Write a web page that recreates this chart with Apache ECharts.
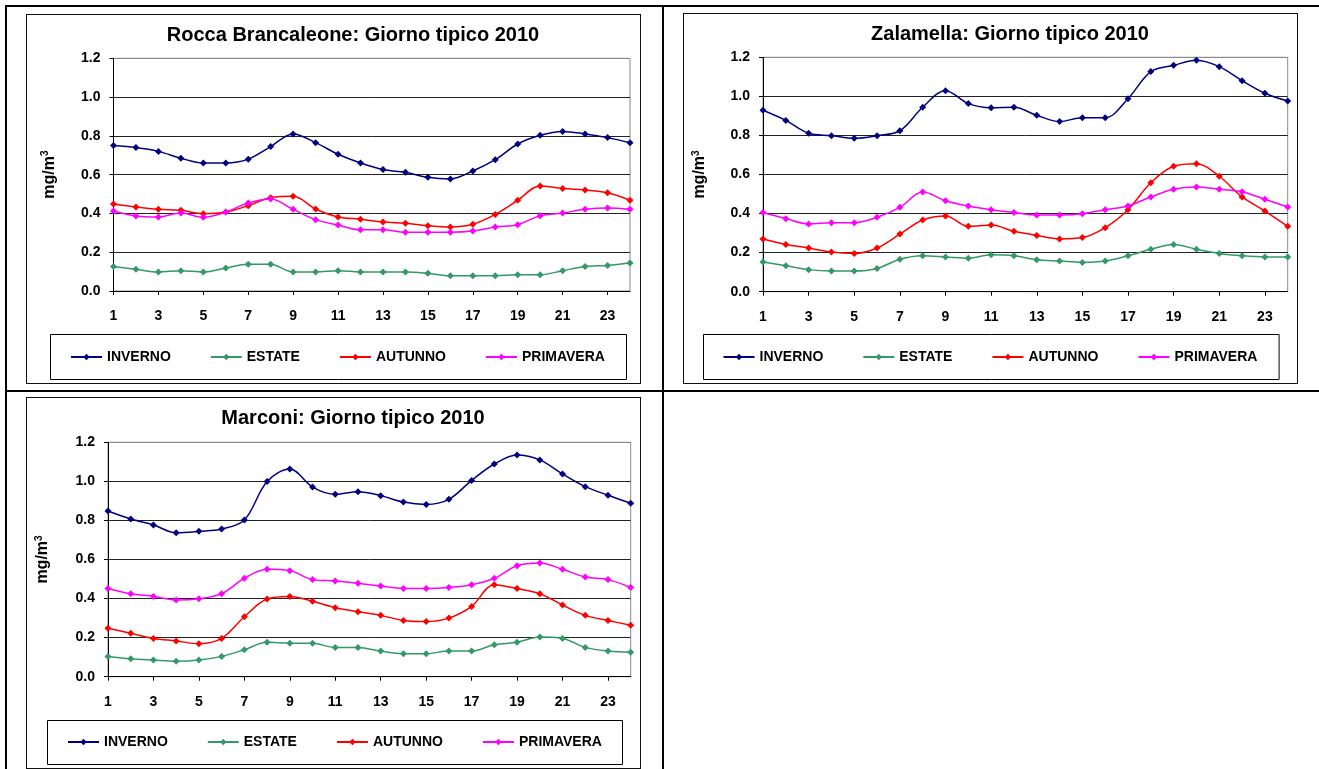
<!DOCTYPE html>
<html><head><meta charset="utf-8">
<script src="https://cdn.jsdelivr.net/npm/echarts@6/dist/echarts.min.js"></script>
<style>
html,body{margin:0;padding:0;background:#fff;width:1319px;height:769px;overflow:hidden;position:relative}
.tl{position:absolute;background:#000}
.ch{position:absolute}
.fr{position:absolute;box-sizing:border-box;border:1px solid #111;pointer-events:none}
</style></head><body>
<div class="tl" style="left:5px;top:5px;width:1314px;height:2px"></div>
<div class="tl" style="left:5px;top:5px;width:2px;height:764px"></div>
<div class="tl" style="left:662px;top:5px;width:2px;height:764px"></div>
<div class="tl" style="left:5px;top:390px;width:1314px;height:2px"></div>

<div id="c1" class="ch" style="left:26px;top:14px;width:615px;height:370px"></div>
<div class="fr" style="left:26px;top:14px;width:615px;height:370px"></div>
<div id="c2" class="ch" style="left:683px;top:13px;width:615px;height:371px"></div>
<div class="fr" style="left:683px;top:13px;width:615px;height:371px"></div>
<div id="c3" class="ch" style="left:26px;top:397px;width:615px;height:372px"></div>
<div class="fr" style="left:26px;top:397px;width:615px;height:372px"></div>

<script>
// ---- data ----
const hours = ['1','2','3','4','5','6','7','8','9','10','11','12','13','14','15','16','17','18','19','20','21','22','23','24'];
const seriesNames = ['INVERNO','ESTATE','AUTUNNO','PRIMAVERA'];
const yTicks = [0, 0.2, 0.4, 0.6, 0.8, 1.0, 1.2];

const titleRocca = 'Rocca Brancaleone: Giorno tipico 2010';
const roccaInverno   = [0.75,0.74,0.72,0.685,0.66,0.66,0.68,0.745,0.81,0.765,0.705,0.66,0.626,0.612,0.586,0.578,0.619,0.677,0.758,0.803,0.823,0.81,0.791,0.765];
const roccaEstate    = [0.126,0.112,0.098,0.105,0.098,0.119,0.138,0.138,0.098,0.098,0.105,0.098,0.098,0.098,0.091,0.079,0.079,0.079,0.084,0.084,0.105,0.126,0.132,0.144];
const roccaAutunno   = [0.449,0.433,0.421,0.416,0.399,0.407,0.44,0.481,0.488,0.423,0.382,0.37,0.356,0.349,0.337,0.33,0.344,0.395,0.468,0.542,0.528,0.521,0.507,0.468];
const roccaPrimavera = [0.413,0.387,0.382,0.402,0.38,0.407,0.454,0.474,0.421,0.368,0.34,0.316,0.316,0.303,0.303,0.303,0.309,0.33,0.342,0.388,0.402,0.421,0.428,0.421];

const titleZalamella = 'Zalamella: Giorno tipico 2010';
const zalInverno   = [0.929,0.877,0.811,0.799,0.785,0.799,0.824,0.944,1.029,0.963,0.942,0.944,0.903,0.871,0.891,0.891,0.988,1.127,1.159,1.185,1.152,1.08,1.016,0.976];
const zalEstate    = [0.152,0.133,0.113,0.106,0.106,0.119,0.166,0.184,0.178,0.171,0.189,0.184,0.164,0.157,0.15,0.157,0.184,0.217,0.242,0.217,0.196,0.184,0.178,0.178];
const zalAutunno   = [0.27,0.242,0.224,0.203,0.196,0.224,0.295,0.367,0.388,0.335,0.341,0.309,0.288,0.27,0.277,0.328,0.42,0.558,0.642,0.655,0.591,0.485,0.413,0.335];
const zalPrimavera = [0.405,0.374,0.347,0.353,0.353,0.381,0.432,0.51,0.466,0.439,0.42,0.406,0.393,0.393,0.399,0.42,0.439,0.485,0.524,0.536,0.524,0.512,0.473,0.434];

const titleMarconi = 'Marconi: Giorno tipico 2010';
const marInverno   = [0.848,0.807,0.777,0.737,0.744,0.756,0.802,0.999,1.063,0.971,0.934,0.947,0.927,0.894,0.882,0.908,1.005,1.089,1.135,1.11,1.038,0.973,0.929,0.888];
const marEstate    = [0.104,0.092,0.085,0.079,0.085,0.104,0.138,0.176,0.171,0.171,0.15,0.15,0.131,0.118,0.118,0.131,0.131,0.164,0.176,0.203,0.196,0.15,0.131,0.125];
const marAutunno   = [0.248,0.222,0.196,0.183,0.169,0.196,0.307,0.398,0.411,0.386,0.353,0.333,0.314,0.288,0.282,0.3,0.36,0.471,0.451,0.425,0.367,0.314,0.288,0.263];
const marPrimavera = [0.452,0.425,0.411,0.393,0.399,0.425,0.504,0.55,0.543,0.497,0.49,0.478,0.464,0.452,0.452,0.457,0.471,0.504,0.568,0.582,0.55,0.51,0.497,0.457];

// ---- styling ----
const colors = ['#000080','#339966','#FF0000','#FF00FF'];
const FONT = '"Liberation Sans", Arial, Helvetica, sans-serif';

function makeChart(id, title, data, L) {
  const chart = echarts.init(document.getElementById(id), null, {renderer:'canvas'});
  const series = seriesNames.map((n, i) => ({
    name: n, type: 'line', data: data[i], smooth: 0.35,
    symbol: 'diamond', symbolSize: 7,
    lineStyle: {color: colors[i], width: 1.5},
    itemStyle: {color: colors[i]},
    emphasis: {disabled: true}
  }));
  chart.setOption({
    animation: false,
    title: {
      text: title, left: 327, top: L.titleTop, textAlign: 'center', padding: 0,
      textStyle: {fontFamily: FONT, fontWeight: 'bold', fontSize: 20, color: '#000', lineHeight: 20}
    },
    grid: {left: L.gl, top: L.gt, width: L.gw, height: L.gh, show: true, borderColor: '#8a8a8a', borderWidth: 1, containLabel: false},
    legend: {
      data: seriesNames, left: L.lgLeft, top: L.lgTop, padding: 0,
      itemWidth: 31, itemHeight: 8, itemGap: 39,
      textStyle: {fontFamily: FONT, fontWeight: 'bold', fontSize: 14, color: '#000'}
    },
    graphic: [{
      type: 'rect', silent: true, z: -1,
      shape: {x: L.bx + 0.5, y: L.by + 0.5, width: L.bw, height: L.bh},
      style: {fill: 'none', stroke: '#000', lineWidth: 1}
    }],
    xAxis: {
      type: 'category', data: hours, boundaryGap: false,
      axisLine: {lineStyle: {color: '#000', width: 1}},
      axisTick: {show: true, interval: 1, length: 4, lineStyle: {color: '#000'}},
      axisLabel: {interval: 1, margin: 18, fontFamily: FONT, fontWeight: 'bold', fontSize: 14, color: '#000'},
      splitLine: {show: false}
    },
    yAxis: {
      type: 'value', min: yTicks[0], max: yTicks[yTicks.length-1], interval: 0.2,
      name: 'mg/m{sup|3}', nameLocation: 'middle', nameRotate: 90, nameGap: L.ng,
      nameTextStyle: {fontFamily: FONT, fontWeight: 'bold', fontSize: 16, color: '#000',
        rich: {sup: {fontFamily: FONT, fontWeight: 'bold', fontSize: 10, color: '#000', verticalAlign: 'top', padding: [0,0,8,0]}}},
      axisLine: {show: true, lineStyle: {color: '#000', width: 1}},
      axisTick: {show: true, length: 4, lineStyle: {color: '#000'}},
      axisLabel: {margin: 13, formatter: v => v.toFixed(1), fontFamily: FONT, fontWeight: 'bold', fontSize: 14, color: '#000'},
      splitLine: {show: true, lineStyle: {color: ['#222','#222','#222','#222','#222','#222','#8a8a8a'], width: 1}}
    },
    series: series
  });
}

makeChart('c1', titleRocca, [roccaInverno, roccaEstate, roccaAutunno, roccaPrimavera],
  {titleTop: 11, gl: 87.5, gt: 44.3, gw: 516.5, gh: 232.7, lgLeft: 44, lgTop: 336, bx: 24, by: 320, bw: 576, bh: 45, ng: 55});
makeChart('c2', titleZalamella, [zalInverno, zalEstate, zalAutunno, zalPrimavera],
  {titleTop: 11, gl: 80, gt: 44.3, gw: 524.7, gh: 234.4, lgLeft: 39.5, lgTop: 337, bx: 20, by: 321, bw: 575.6, bh: 45, ng: 54});
makeChart('c3', titleMarconi, [marInverno, marEstate, marAutunno, marPrimavera],
  {titleTop: 11, gl: 79.7, gt: 45.3, gw: 525, gh: 234.4, lgLeft: 41, lgTop: 338, bx: 21, by: 323, bw: 575, bh: 44, ng: 56});
</script>
</body></html>
